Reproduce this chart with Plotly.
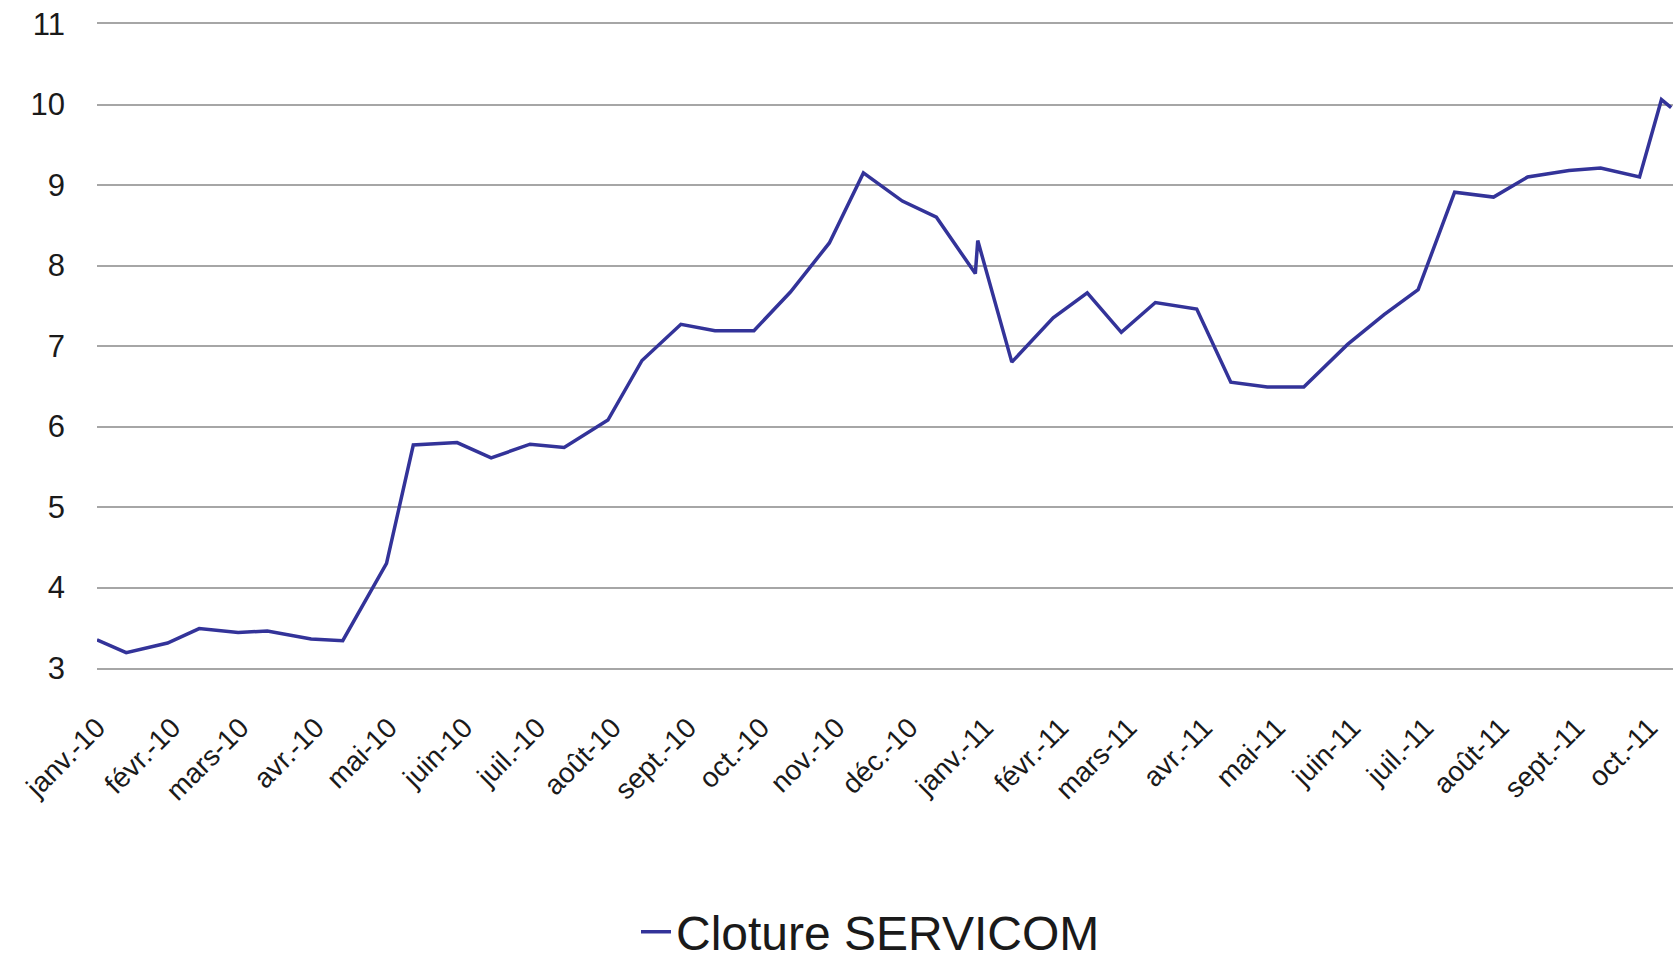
import plotly.graph_objects as go

dates = ["2010-01-01", "2010-01-13", "2010-01-30", "2010-02-12", "2010-02-28", "2010-03-12",
         "2010-03-30", "2010-04-12", "2010-04-30", "2010-05-11", "2010-05-29", "2010-06-12",
         "2010-06-28", "2010-07-12", "2010-07-30", "2010-08-13", "2010-08-29", "2010-09-12",
         "2010-09-28", "2010-10-13", "2010-10-29", "2010-11-12", "2010-11-28", "2010-12-12",
         "2010-12-28", "2010-12-29", "2011-01-12", "2011-01-29", "2011-02-12", "2011-02-26",
         "2011-03-12", "2011-03-29", "2011-04-12", "2011-04-27", "2011-05-12", "2011-05-30",
         "2011-06-14", "2011-06-28", "2011-07-13", "2011-07-29", "2011-08-12", "2011-08-29",
         "2011-09-11", "2011-09-27", "2011-10-06", "2011-10-10"]
cloture = [3.35, 3.19, 3.31, 3.49, 3.44, 3.46,
           3.36, 3.34, 4.30, 5.77, 5.80, 5.61,
           5.78, 5.74, 6.08, 6.82, 7.27, 7.19,
           7.19, 7.67, 8.28, 9.15, 8.80, 8.60,
           7.90, 8.31, 6.80, 7.35, 7.66, 7.17,
           7.54, 7.46, 6.55, 6.49, 6.49, 7.02,
           7.39, 7.70, 8.91, 8.85, 9.10, 9.18,
           9.21, 9.10, 10.06, 9.96]

tick_dates = ["2010-01-01", "2010-02-01", "2010-03-01", "2010-04-01", "2010-05-01", "2010-06-01",
              "2010-07-01", "2010-08-01", "2010-09-01", "2010-10-01", "2010-11-01", "2010-12-01",
              "2011-01-01", "2011-02-01", "2011-03-01", "2011-04-01", "2011-05-01", "2011-06-01",
              "2011-07-01", "2011-08-01", "2011-09-01", "2011-10-01"]
tick_labels = ["janv.-10", "févr.-10", "mars-10", "avr.-10", "mai-10", "juin-10",
               "juil.-10", "août-10", "sept.-10", "oct.-10", "nov.-10", "déc.-10",
               "janv.-11", "févr.-11", "mars-11", "avr.-11", "mai-11", "juin-11",
               "juil.-11", "août-11", "sept.-11", "oct.-11"]
y_ticks = [3, 4, 5, 6, 7, 8, 9, 10, 11]

GRID = "#a6a6a6"

fig = go.Figure()
fig.add_trace(go.Scatter(
    x=dates, y=cloture, mode="lines", name="Cloture SERVICOM",
    line=dict(color="#333399", width=3.5),
))

fig.update_layout(
    width=1673, height=953,
    margin=dict(l=97, r=0, t=24, b=285, autoexpand=False),
    paper_bgcolor="white", plot_bgcolor="white",
    font=dict(family="Liberation Sans, Arial, sans-serif", color="#1a1a1a"),
    showlegend=True,
    legend=dict(orientation="h", x=0.342, xanchor="left", y=-0.41, yanchor="middle",
                font=dict(size=48, color="#1a1a1a"), bgcolor="rgba(0,0,0,0)"),
    xaxis=dict(
        type="date", range=["2010-01-01", "2011-10-10 18:00"],
        tickmode="array", tickvals=tick_dates, ticktext=tick_labels,
        tickangle=-45, tickfont=dict(size=28, color="#1a1a1a"),
        showgrid=False, zeroline=False,
        showline=True, mirror=True, linecolor=GRID, linewidth=2,
        ticks="", ticklabelstandoff=30,
    ),
    yaxis=dict(
        range=[3, 11], tickmode="array", tickvals=y_ticks,
        tickfont=dict(size=31, color="#1a1a1a"),
        showgrid=True, gridcolor=GRID, gridwidth=2,
        zeroline=False, showline=False, ticks="",
        ticklabelstandoff=31,
    ),
)

fig.write_html("out.html", config={"displayModeBar": False},
               post_script="document.body.style.margin='0';document.body.style.overflow='hidden';")
